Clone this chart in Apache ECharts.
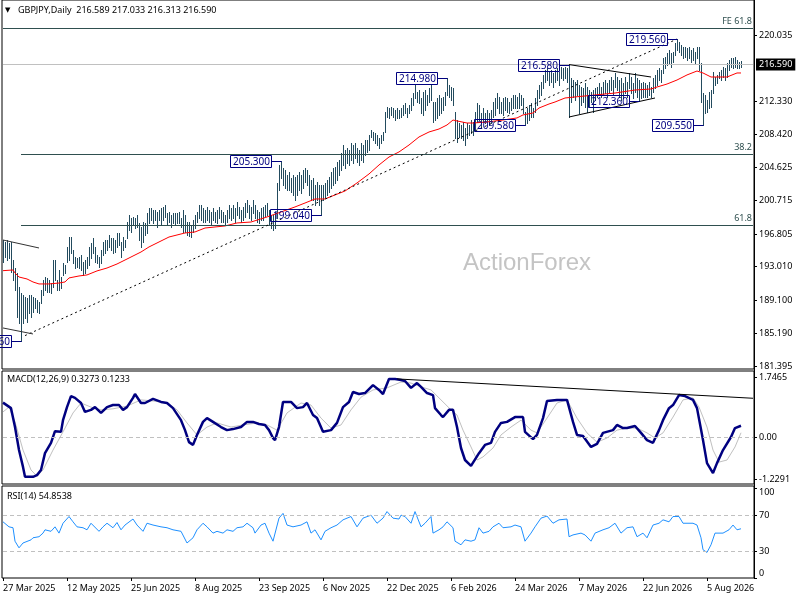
<!DOCTYPE html>
<html>
<head>
<meta charset="utf-8">
<title>GBPJPY Daily</title>
<script src="https://cdn.jsdelivr.net/npm/echarts@6/dist/echarts.min.js"></script>
<style>
html, body { margin: 0; padding: 0; background: #fff; }
#chart { width: 800px; height: 600px; }
</style>
</head>
<body>
<div id="chart"></div>
<script>
// GBPJPY daily bars, first bar 27 Mar 2025 (370 bars)
var barHigh = [
196.1,195.9,196.1,195.8,195.9,193.8,192.8,192.2,190.6,189.9,
189.7,189.5,189.3,189.7,189.7,189.5,189.3,189.1,188.9,190.3,
191.4,191.8,191.7,191.4,191.1,193.8,193.8,191.4,192.6,191.8,
193.4,193.2,195.3,196.5,196.5,194.9,194.1,194.0,194.1,194.4,
193.5,193.8,194.1,195.3,195.8,196.3,195.3,194.4,194.1,194.9,
195.9,196.1,196.1,196.7,196.3,196.3,196.1,196.9,196.9,195.9,
196.5,196.1,198.2,199.0,198.7,198.8,198.7,199.0,198.1,197.6,
198.2,198.1,199.3,199.8,199.8,199.6,199.6,199.4,199.6,199.8,
200.0,200.2,199.3,199.4,199.0,199.3,199.3,199.3,199.4,198.7,
199.6,199.0,198.2,198.2,197.7,198.4,199.0,199.4,200.2,200.2,
199.8,199.6,200.0,199.6,199.4,199.8,199.4,199.6,200.0,199.6,
199.4,199.0,199.6,200.2,199.8,200.2,199.8,200.5,200.0,199.6,
200.0,200.4,200.8,200.2,200.0,200.8,200.2,199.6,199.4,199.8,
200.0,200.2,200.4,199.6,199.0,199.0,199.4,202.8,204.9,205.3,
204.5,204.3,203.7,204.0,203.3,203.7,203.5,203.7,204.0,203.7,
204.3,204.5,204.3,203.7,203.1,203.3,202.5,202.9,202.5,202.5,
202.5,202.8,203.1,203.5,204.0,204.5,204.6,205.2,205.4,206.3,
207.2,206.6,206.8,206.6,207.4,207.2,207.4,206.8,206.6,207.4,
207.2,207.8,207.8,208.4,208.9,208.7,208.6,208.4,208.0,208.4,
208.7,211.0,211.6,211.5,211.6,211.5,211.3,211.5,211.3,211.5,
211.9,212.1,211.5,211.9,212.7,213.3,214.2,213.4,213.6,212.7,
213.4,213.6,213.0,213.8,214.2,212.2,212.2,212.7,213.0,212.7,
212.8,213.4,214.98,214.2,214.0,213.8,211.0,210.1,209.8,209.5,
209.9,209.2,209.8,209.5,210.1,209.9,211.0,212.1,211.9,210.9,
211.5,210.9,211.3,210.9,211.3,212.2,212.7,213.3,212.8,212.2,
212.7,212.8,212.7,212.2,212.7,213.0,213.0,212.8,213.3,213.0,
212.7,211.0,211.5,211.9,212.1,211.5,212.7,213.6,214.2,214.5,
215.4,216.0,216.2,215.7,216.0,215.6,216.0,216.2,215.7,216.3,
216.2,216.3,216.2,216.58,215.0,214.8,214.5,214.8,214.2,214.0,
213.8,214.4,214.0,213.6,213.4,213.6,213.8,214.0,214.4,214.0,
214.5,214.8,214.4,214.8,215.1,214.8,215.6,215.1,214.8,215.0,
214.4,215.1,214.5,215.6,215.1,214.4,215.6,215.0,214.8,214.4,
214.5,214.4,214.2,214.5,214.0,215.0,215.4,216.0,216.2,216.0,
217.35,217.5,217.9,218.3,217.9,218.05,219.1,219.56,219.2,218.9,
218.6,218.6,218.5,218.6,218.3,218.5,218.05,218.6,218.6,216.8,
213.3,213.0,212.45,213.4,213.6,215.7,215.1,215.4,215.7,216.0,
216.3,216.2,216.8,217.1,217.35,217.35,217.5,217.1,216.9,217.033
];
var barLow = [
193.5,194.1,193.8,194.0,192.4,191.4,190.3,187.1,186.4,184.36,
186.4,187.0,186.5,187.6,187.1,187.7,188.2,187.7,187.6,188.8,
189.7,190.3,190.0,190.0,189.9,190.6,191.4,190.3,190.3,190.5,
192.0,192.3,193.5,193.8,194.6,193.4,192.8,193.0,192.8,192.6,
192.0,192.3,192.8,193.2,194.0,194.6,193.5,193.4,193.0,193.4,
194.4,194.6,194.9,195.3,194.9,194.6,194.7,195.3,195.5,194.1,
194.9,195.3,196.3,197.3,197.0,197.9,197.5,197.6,196.1,195.3,
195.9,196.7,196.9,198.1,198.4,198.1,198.4,197.6,198.4,197.9,
198.4,198.8,197.9,198.2,197.6,198.1,197.9,198.1,198.1,197.6,
197.0,197.0,196.7,196.6,196.5,197.0,197.5,198.2,198.7,198.4,
198.2,198.2,198.4,198.2,197.9,198.4,198.2,198.1,198.7,198.2,
198.2,197.9,198.2,198.7,198.4,198.7,198.2,199.0,198.7,198.2,
198.4,198.8,199.4,198.7,198.4,199.3,198.7,198.2,198.1,198.4,
198.4,198.9,199.0,197.9,197.5,197.3,197.5,198.7,201.9,203.3,
202.5,202.2,201.9,201.9,201.7,201.4,200.8,201.4,201.9,201.6,
202.2,202.9,202.5,201.4,200.8,200.8,200.2,200.8,200.2,199.04,
200.8,201.0,201.4,201.7,202.2,202.5,202.8,203.1,203.7,204.3,
204.9,204.5,205.1,204.9,205.4,205.1,205.7,205.2,204.9,205.4,
205.2,206.0,206.4,206.6,208.1,207.8,207.4,207.2,206.8,207.4,
207.8,208.7,210.5,210.4,210.7,210.5,210.1,210.4,210.4,210.5,
210.7,210.9,210.5,210.9,211.3,211.9,212.7,212.2,212.1,210.9,
210.7,211.3,211.9,212.2,212.4,209.9,210.1,210.4,210.7,210.9,
211.3,211.9,213.0,212.8,212.4,211.9,208.0,207.5,208.1,208.0,
207.8,207.2,208.0,208.4,208.6,208.4,208.9,209.9,210.1,209.3,
209.9,209.8,209.9,209.5,209.8,210.5,210.7,211.5,210.9,210.9,
210.7,211.3,211.0,210.9,211.3,211.5,211.5,211.5,211.5,211.9,
210.9,209.58,209.8,210.1,210.5,210.5,211.0,211.9,212.7,213.0,
213.8,214.5,214.8,214.2,214.5,214.0,214.5,214.8,214.2,215.0,
214.8,215.0,214.5,210.5,212.2,212.8,212.4,213.0,210.9,211.9,
212.2,211.6,211.0,211.6,212.2,211.0,212.4,212.8,213.0,212.8,
213.0,213.3,212.8,213.4,213.6,213.0,214.0,213.6,212.8,212.4,
212.7,213.3,212.8,213.8,213.3,212.7,213.4,212.8,212.36,212.7,
212.8,212.8,212.8,213.0,212.8,213.4,213.8,214.2,214.8,214.5,
215.6,216.2,216.5,216.8,216.3,216.9,217.7,218.3,218.05,217.7,
217.35,217.5,217.1,217.35,216.9,217.1,216.8,217.35,216.0,212.2,
209.55,210.9,211.0,211.5,211.6,213.3,214.2,214.4,215.0,214.8,
215.1,214.8,215.1,216.0,216.3,216.2,216.3,216.2,216.2,216.313
];
// red moving average, [bar, price]
var emaPoints = [
[0,192.52],[5,192.6],[6,192.25],[8,191.78],[12,191.55],[15,191.2],[18,190.97],[23,190.97],
[28,191.08],[31,191.2],[33,191.67],[38,191.9],[42,192.02],[47,192.49],[52,192.83],[57,193.3],
[62,193.88],[66,194.35],[69,194.7],[73,195.29],[78,195.87],[83,196.45],[91,196.92],[96,197.04],
[101,197.5],[111,197.74],[117,198.09],[124,198.2],[132,198.79],[139,199.37],[146,199.96],
[151,200.42],[156,200.89],[161,200.89],[166,201.36],[171,201.82],[177,202.76],[183,203.81],
[188,204.86],[193,205.79],[198,206.38],[203,207.19],[208,208.13],[213,208.71],[218,209.06],
[222,209.53],[225,210.11],[227,210.0],[232,209.76],[235,209.76],[242,209.88],[250,210.11],
[257,210.35],[260,210.7],[265,210.93],[268,211.51],[273,211.98],[276,212.21],[281,212.68],
[286,212.8],[296,213.03],[306,213.26],[316,213.61],[324,213.73],[327,213.96],[332,214.31],
[337,214.78],[342,215.37],[347,215.83],[350,215.6],[354,215.13],[359,215.13],[362,215.13],
[367,215.6],[369,215.6]
];
// MACD(12,26,9) main and signal, [bar, value]
var macdMain = [
[0,1.00],[4,0.84],[6,0.29],[8,-0.38],[10,-0.87],[11,-1.16],[15,-1.16],[17,-1.11],[19,-0.96],
[21,-0.47],[24,-0.17],[26,0.17],[29,0.15],[30,0.49],[32,0.87],[34,1.19],[36,1.14],[39,0.99],
[41,0.73],[44,0.79],[46,0.87],[49,0.70],[52,0.87],[55,0.93],[58,0.93],[60,0.79],[62,0.87],
[65,1.14],[66,1.25],[69,0.99],[71,0.99],[75,1.11],[79,1.02],[82,0.99],[85,0.84],[89,0.49],
[91,0.20],[93,-0.15],[95,-0.23],[97,0.06],[100,0.44],[102,0.55],[105,0.44],[109,0.29],
[112,0.20],[115,0.23],[119,0.29],[122,0.44],[125,0.44],[128,0.38],[131,0.35],[133,0.20],
[135,-0.03],[136,-0.09],[138,0.29],[140,1.02],[144,1.02],[147,0.84],[150,0.87],[152,0.99],
[155,0.64],[157,0.55],[160,0.15],[161,0.12],[164,0.20],[167,0.41],[170,0.87],[173,1.02],
[175,1.31],[178,1.25],[181,1.28],[185,1.51],[188,1.37],[190,1.25],[193,1.69],[196,1.69],
[199,1.66],[201,1.63],[204,1.43],[207,1.57],[209,1.46],[212,1.28],[215,1.22],[216,0.84],
[219,0.64],[220,0.58],[223,0.79],[225,0.79],[227,0.29],[229,-0.32],[231,-0.67],[234,-0.84],
[235,-0.82],[238,-0.47],[241,-0.23],[244,-0.17],[246,0.15],[249,0.41],[252,0.44],[256,0.58],
[260,0.58],[261,0.15],[265,-0.06],[267,0.06],[270,0.55],[272,1.05],[277,1.08],[282,1.08],
[285,0.44],[287,0.06],[290,0.03],[294,-0.29],[297,-0.20],[300,0.12],[305,0.20],[307,0.35],
[310,0.26],[312,0.26],[316,0.32],[319,0.12],[322,-0.09],[325,-0.17],[328,0.20],[330,0.49],
[333,0.84],[335,0.93],[338,1.22],[341,1.19],[345,1.08],[347,0.84],[350,-0.09],[352,-0.76],
[355,-1.05],[357,-0.76],[360,-0.38],[364,0.00],[366,0.26],[369,0.3273]
];
var macdSignal = [
[0,0.73],[3,0.87],[6,0.44],[10,-0.38],[14,-0.96],[17,-1.14],[20,-0.96],[25,-0.38],[30,0.15],
[35,0.70],[39,0.99],[44,0.87],[49,0.79],[55,0.82],[62,0.90],[69,1.08],[75,1.05],[82,0.99],
[87,0.79],[92,0.41],[97,0.06],[102,0.29],[107,0.41],[114,0.29],[120,0.35],[127,0.41],
[132,0.35],[137,0.20],[142,0.70],[149,0.99],[154,0.93],[159,0.55],[164,0.26],[169,0.35],
[174,0.79],[179,1.16],[185,1.37],[192,1.43],[199,1.60],[204,1.57],[209,1.46],[214,1.37],
[219,1.08],[224,0.79],[227,0.64],[230,0.20],[234,-0.29],[237,-0.67],[240,-0.58],[245,-0.32],
[249,0.06],[254,0.29],[259,0.49],[264,0.20],[267,0.12],[272,0.55],[277,0.99],[282,1.08],
[287,0.55],[292,0.12],[297,-0.15],[302,-0.03],[307,0.20],[312,0.26],[317,0.26],[322,0.12],
[326,-0.03],[330,0.12],[335,0.58],[340,1.08],[345,1.14],[348,0.87],[352,0.29],[355,-0.38],
[358,-0.73],[362,-0.67],[366,-0.29],[369,0.1233]
];
// RSI(14), [bar, value]
var rsiPoints = [
[0,62.6],[3,57],[5,56],[6,41],[8,33.6],[10,39],[11,41],[14,42.5],[15,44.8],[18,46],[20,50],
[21,53.7],[24,52],[26,57],[28,50],[30,61],[33,68.5],[35,62.6],[37,57],[40,56],[42,53.7],
[44,61],[45,59],[48,52],[50,57],[52,61],[55,56],[57,61.8],[59,53.7],[61,59],[65,65.7],
[67,59],[70,52],[72,61],[75,59],[79,57],[82,56],[85,53.7],[89,52],[90,50],[92,39],[95,44.8],
[97,53.7],[100,61],[102,57],[105,50],[107,52],[110,50],[112,53.7],[115,52],[117,56],[120,57],
[122,61],[125,56],[126,50],[129,59],[131,61],[133,50],[135,41],[136,42.5],[138,66.7],
[140,72],[142,59],[145,57],[149,59],[152,62.6],[154,50],[156,53.7],[159,42.5],[161,52],
[164,56],[167,59],[170,64.8],[174,68.5],[177,57],[180,66.7],[184,70],[187,61],[190,66.7],
[192,74],[195,66.7],[198,65.7],[199,70],[201,68.5],[204,61],[206,74],[209,57],[211,61],
[214,68.5],[215,50],[218,53.7],[220,57],[222,62.6],[225,56],[226,41],[229,37],[231,42.5],
[234,41],[236,42.5],[238,56],[240,50],[243,52],[245,57],[248,61],[250,56],[254,57],[256,59],
[259,57],[261,41],[264,50],[266,57],[269,66.7],[272,69],[275,61],[278,64.8],[282,65.7],
[283,46],[285,48],[289,50],[291,48],[294,41],[296,50],[300,53.7],[303,56],[306,61],[309,50],
[312,56],[315,57],[317,46],[320,50],[322,44.8],[325,59],[328,61],[330,64.8],[333,62.6],
[335,68.5],[338,68.5],[340,61],[345,61],[347,59],[349,44.8],[350,31.5],[352,28.5],[354,37],
[356,50],[360,50],[363,53.7],[365,59],[367,53.7],[369,54.8538]
];
// labelled highs and lows, [bar, price]
var swingLabels = [[9,184.36],[139,205.30],[159,199.04],[222,214.98],[261,209.58],[283,216.58],[318,212.36],[337,219.56],[350,209.55]];
var dateLabels = ['27 Mar 2025','12 May 2025','25 Jun 2025','8 Aug 2025','23 Sep 2025','6 Nov 2025','22 Dec 2025','6 Feb 2026','24 Mar 2026','7 May 2026','22 Jun 2026','5 Aug 2026'];
var priceTicks = [181.395,185.190,189.100,193.010,196.805,200.715,204.625,208.420,212.330,220.035];
var macdTicks = [-1.2291,0,1.7465];
var rsiTicks = [0,30,70,100];
var lastPrice = 216.590;
var fibLevels = {fe618: 220.85, r382: 206.14, r618: 197.85};

var slots = [];
for (var k = 0; k < 376; k++) slots.push(k);
var labelStep = 32;

var FONT = 'Noto Sans';
var barColor = '#234b5e';
var navy = '#000080';

function tickAxis(gridIndex, min, max, ticks, fmt, extra) {
    var ax = {
        type: 'value', gridIndex: gridIndex, position: 'right',
        min: min, max: max,
        splitLine: {show: false},
        axisLine: {show: true, lineStyle: {color: '#000', width: 1}},
        axisTick: {show: true, length: 3, inside: false, customValues: ticks, lineStyle: {color: '#000'}},
        axisLabel: {
            show: true, customValues: ticks, margin: 5,
            color: '#000', fontSize: 9, fontFamily: FONT,
            formatter: fmt
        }
    };
    if (extra) for (var key in extra) ax.axisLabel[key] = extra[key];
    return ax;
}

var lineItem = function (a, b, style) {
    return [{coord: a, lineStyle: style}, {coord: b}];
};

var chart = echarts.init(document.getElementById('chart'));
var option = {
    animation: false,
    backgroundColor: '#fff',
    grid: [
        {left: 2, right: 46, top: 0, height: 369, show: true, borderColor: '#000', borderWidth: 1},
        {left: 2, right: 46, top: 371, height: 113, show: true, borderColor: '#000', borderWidth: 1},
        {left: 2, right: 46, top: 486, height: 92, show: true, borderColor: '#000', borderWidth: 1}
    ],
    xAxis: [
        {type: 'category', gridIndex: 0, data: slots, boundaryGap: true, show: false},
        {type: 'category', gridIndex: 1, data: slots, boundaryGap: true, show: false},
        {
            type: 'category', gridIndex: 2, data: slots, boundaryGap: true,
            axisLine: {show: false},
            axisTick: {
                show: true, alignWithLabel: true, length: 3, lineStyle: {color: '#000'},
                interval: function (i) { return i % labelStep === 0 && i / labelStep < dateLabels.length; }
            },
            axisLabel: {
                show: true, align: 'left', margin: 6, color: '#000', fontSize: 9, fontFamily: FONT,
                interval: function (i) { return i % labelStep === 0 && i / labelStep < dateLabels.length; },
                formatter: function (v, i) { return dateLabels[i / labelStep] || ''; }
            }
        }
    ],
    yAxis: [
        tickAxis(0, 181.04, 224.12, priceTicks, function (v) { return v.toFixed(3); }),
        tickAxis(1, -1.368, 1.921, macdTicks, function (v) { return v === 0 ? '0.00' : v.toFixed(4); }),
        tickAxis(2, 0, 102.5, rsiTicks, function (v) { return String(v); },
            {verticalAlignMinLabel: 'bottom', verticalAlignMaxLabel: 'top'})
    ],
    graphic: {elements: [
        {type: 'text', z: 0, x: 463, y: 263, silent: true,
         style: {text: 'ActionForex', fill: '#c4c4c4', fontSize: 24, fontFamily: 'Liberation Sans', verticalAlign: 'middle'}},
        {type: 'text', z: 10, x: 5, y: 10,
         style: {text: '\u25BC', fill: '#000', fontSize: 7, fontFamily: 'DejaVu Sans', verticalAlign: 'middle'}},
        {type: 'text', z: 10, x: 18, y: 10,
         style: {text: 'GBPJPY,Daily  216.589 217.033 216.313 216.590', fill: '#000', fontSize: 9, fontFamily: FONT, verticalAlign: 'middle'}},
        {type: 'text', z: 10, x: 7, y: 379,
         style: {text: 'MACD(12,26,9) 0.3273 0.1233', fill: '#000', fontSize: 9, fontFamily: FONT, verticalAlign: 'middle'}},
        {type: 'text', z: 10, x: 7, y: 496,
         style: {text: 'RSI(14) 54.8538', fill: '#000', fontSize: 9, fontFamily: FONT, verticalAlign: 'middle'}},
        {type: 'line', z: 10, shape: {x1: 754.5, y1: 0, x2: 754.5, y2: 579}, style: {stroke: '#000', lineWidth: 1}}
    ]},
    series: [
        {
            name: 'bars', type: 'custom', xAxisIndex: 0, yAxisIndex: 0, z: 3,
            data: barHigh.map(function (h, i) { return [i, h, barLow[i]]; }),
            encode: {x: 0, y: [1, 2]},
            renderItem: function (params, api) {
                var top = api.coord([api.value(0), api.value(1)]);
                var bot = api.coord([api.value(0), api.value(2)]);
                var x = Math.round(top[0]) + 0.5;
                return {type: 'line', shape: {x1: x, y1: Math.round(top[1]), x2: x, y2: Math.round(bot[1]) + 1},
                        style: {stroke: barColor, lineWidth: 1}};
            }
        },
        {
            name: 'ma', type: 'line', xAxisIndex: 0, yAxisIndex: 0, z: 4,
            data: emaPoints, showSymbol: false, symbol: 'none',
            lineStyle: {color: '#ff0000', width: 1},
            markLine: {
                silent: true, symbol: ['none', 'none'], animation: false,
                label: {show: false},
                data: [
                    [{coord: [0, fibLevels.fe618], lineStyle: {color: '#2f4f4f', type: 'solid', width: 1},
                      label: {show: true, formatter: 'FE 61.8', position: 'insideEndTop', distance: [1, 2], color: '#2f4f4f', fontSize: 9, fontFamily: FONT}},
                     {coord: [375, fibLevels.fe618]}],
                    [{coord: [9, fibLevels.r382], lineStyle: {color: '#2f4f4f', type: 'solid', width: 1},
                      label: {show: true, formatter: '38.2', position: 'insideEndTop', distance: [1, 2], color: '#2f4f4f', fontSize: 9, fontFamily: FONT}},
                     {coord: [375, fibLevels.r382]}],
                    [{coord: [9, fibLevels.r618], lineStyle: {color: '#2f4f4f', type: 'solid', width: 1},
                      label: {show: true, formatter: '61.8', position: 'insideEndTop', distance: [1, 2], color: '#2f4f4f', fontSize: 9, fontFamily: FONT}},
                     {coord: [375, fibLevels.r618]}],
                    [{coord: [0, lastPrice], lineStyle: {color: '#c0c0c0', type: 'solid', width: 1},
                      label: {show: true, formatter: lastPrice.toFixed(3), position: 'end', distance: 3,
                              backgroundColor: '#000', color: '#fff', padding: [2, 3, 1, 3], fontSize: 9, fontFamily: FONT}},
                     {coord: [375, lastPrice]}],
                    lineItem([11, 184.94], [337, 219.56], {color: '#000', type: [2, 3], width: 1}),
                    lineItem([283, 216.58], [324, 215.13], {color: '#000', type: 'solid', width: 1}),
                    lineItem([283, 210.46], [326, 212.68], {color: '#000', type: 'solid', width: 1}),
                    lineItem([0, 196.1], [18, 195.17], {color: '#333', type: 'solid', width: 1}),
                    lineItem([0, 185.83], [15, 185.13], {color: '#333', type: 'solid', width: 1})
                ]
            }
        },
        {
            name: 'swings', type: 'custom', xAxisIndex: 0, yAxisIndex: 0, z: 6,
            data: swingLabels,
            renderItem: function (params, api) {
                var p = api.coord([api.value(0), api.value(1)]);
                var x = Math.round(p[0]) + 0.5, y = Math.round(p[1]) + 0.5;
                return {type: 'group', children: [
                    {type: 'line', shape: {x1: x - 10, y1: y, x2: x, y2: y}, style: {stroke: navy, lineWidth: 1}},
                    {type: 'rect', shape: {x: x - 51, y: y - 6, width: 41, height: 12}, style: {fill: 'transparent', stroke: navy, lineWidth: 1}},
                    {type: 'text', style: {text: api.value(1).toFixed(3), x: x - 30, y: y + 0.5, align: 'center', verticalAlign: 'middle',
                                           fill: navy, fontSize: 10, fontFamily: FONT}}
                ]};
            }
        },
        {
            name: 'signal', type: 'line', xAxisIndex: 1, yAxisIndex: 1, z: 3,
            data: macdSignal, showSymbol: false, symbol: 'none',
            lineStyle: {color: '#c0c0c0', width: 1},
            markLine: {
                silent: true, symbol: ['none', 'none'], animation: false, label: {show: false},
                data: [
                    [{coord: [0, 0], lineStyle: {color: '#c0c0c0', type: [4, 3], width: 1}}, {coord: [375, 0]}],
                    lineItem([197, 1.69], [375, 1.127], {color: '#000', type: 'solid', width: 1})
                ]
            }
        },
        {
            name: 'macd', type: 'line', xAxisIndex: 1, yAxisIndex: 1, z: 4,
            data: macdMain, showSymbol: false, symbol: 'none',
            lineStyle: {color: '#000080', width: 2.5}
        },
        {
            name: 'rsi', type: 'line', xAxisIndex: 2, yAxisIndex: 2, z: 4,
            data: rsiPoints, showSymbol: false, symbol: 'none',
            lineStyle: {color: '#1e90ff', width: 1},
            markLine: {
                silent: true, symbol: ['none', 'none'], animation: false, label: {show: false},
                data: [
                    [{coord: [0, 70], lineStyle: {color: '#c0c0c0', type: [4, 3], width: 1}}, {coord: [375, 70]}],
                    [{coord: [0, 30], lineStyle: {color: '#c0c0c0', type: [4, 3], width: 1}}, {coord: [375, 30]}]
                ]
            }
        }
    ]
};
chart.setOption(option);
</script>
</body>
</html>
